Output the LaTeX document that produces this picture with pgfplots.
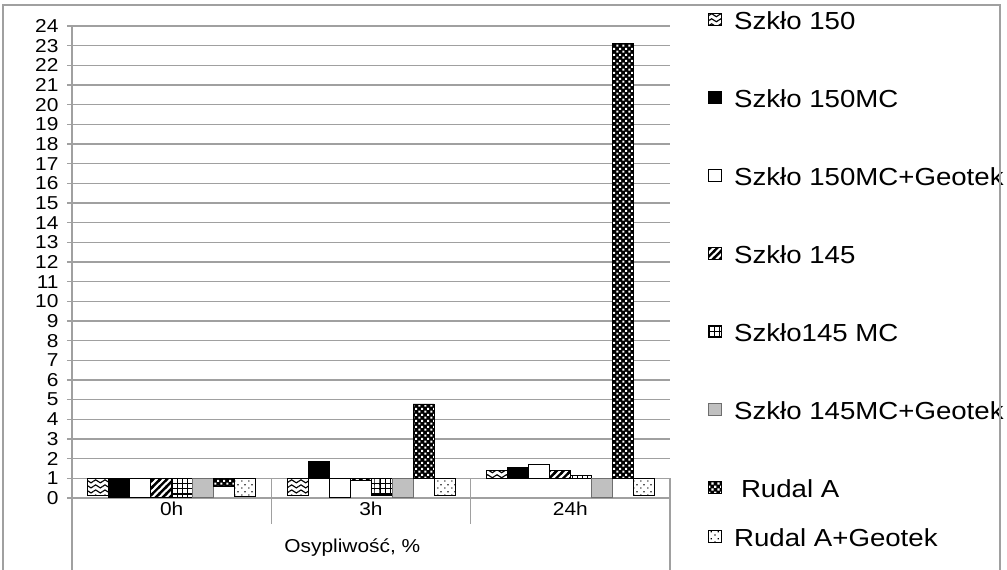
\documentclass[border=0pt]{standalone}
\usepackage{fontspec}
\setmainfont[FakeStretch=1.12]{Liberation Sans}
\usepackage{pgfplots}
\pgfplotsset{compat=1.18}
\usetikzlibrary{patterns}

% bar fills (form only, colour set per plot)
\pgfdeclarepatternformonly{waves}{\pgfpoint{-1pt}{-1pt}}{\pgfpoint{8pt}{4.8pt}}{\pgfpoint{7pt}{3.8pt}}{%
  \pgfsetlinewidth{0.85pt}%
  \pgfpathmoveto{\pgfpoint{0pt}{1.9pt}}%
  \pgfpathcurveto{\pgfpoint{1.17pt}{3.4pt}}{\pgfpoint{2.33pt}{3.4pt}}{\pgfpoint{3.5pt}{1.9pt}}%
  \pgfpathcurveto{\pgfpoint{4.67pt}{0.4pt}}{\pgfpoint{5.83pt}{0.4pt}}{\pgfpoint{7pt}{1.9pt}}%
  \pgfusepath{stroke}}
\pgfdeclarepatternformonly{thickstripes}{\pgfpoint{-1pt}{-1pt}}{\pgfpoint{6.2pt}{6.2pt}}{\pgfpoint{5.2pt}{5.2pt}}{%
  \pgfsetlinewidth{1.8pt}%
  \pgfpathmoveto{\pgfpoint{-1pt}{-1pt}}%
  \pgfpathlineto{\pgfpoint{6.2pt}{6.2pt}}%
  \pgfusepath{stroke}}
\pgfdeclarepatternformonly{sqgrid}{\pgfpoint{-0.5pt}{-0.5pt}}{\pgfpoint{4.3pt}{4.3pt}}{\pgfpoint{3.8pt}{3.8pt}}{%
  \pgfsetlinewidth{0.8pt}%
  \pgfpathmoveto{\pgfpoint{0pt}{-0.5pt}}\pgfpathlineto{\pgfpoint{0pt}{4.3pt}}%
  \pgfpathmoveto{\pgfpoint{-0.5pt}{0pt}}\pgfpathlineto{\pgfpoint{4.3pt}{0pt}}%
  \pgfusepath{stroke}}
\pgfdeclarepatternformonly{whitesq}{\pgfpointorigin}{\pgfpoint{4.6pt}{4.6pt}}{\pgfpoint{4.6pt}{4.6pt}}{%
  \pgfpathrectangle{\pgfpoint{0.3pt}{0.3pt}}{\pgfpoint{1.8pt}{1.8pt}}%
  \pgfpathrectangle{\pgfpoint{2.6pt}{2.6pt}}{\pgfpoint{1.8pt}{1.8pt}}%
  \pgfusepath{fill}}
\pgfdeclarepatternformonly{sparsedots}{\pgfpointorigin}{\pgfpoint{5pt}{5pt}}{\pgfpoint{5pt}{5pt}}{%
  \pgfpathrectangle{\pgfpoint{1pt}{1pt}}{\pgfpoint{0.9pt}{0.9pt}}%
  \pgfpathrectangle{\pgfpoint{3.5pt}{3.5pt}}{\pgfpoint{0.9pt}{0.9pt}}%
  \pgfusepath{fill}}

\definecolor{gridgray}{RGB}{160,160,160}
\definecolor{bargray}{RGB}{192,192,192}
\definecolor{bargrayedge}{RGB}{110,110,110}

\pgfplotsset{
  legsym/.style={legend image code/.code={\draw[##1] (0pt,-2pt) rectangle (9.5pt,7.5pt);}},
  legfont/.style={font=\fontsize{18.5}{20}\selectfont},
}

\begin{document}
\begin{tikzpicture}
\begin{axis}[
    at={(0pt,0pt)}, anchor=south west,
    scale only axis, width=448.5pt, height=354pt,
    ybar=0pt, bar width=15.75pt,
    xmin=-0.5, xmax=2.5, ymin=-1, ymax=23,
    y filter/.expression={y-1},   % horizontal axis crosses at 1
    xtick={0,1,2}, xticklabels={0h,3h,24h},
    ytick={-1,0,...,23},
    yticklabel={\pgfmathparse{int(round(\tick+1))}\pgfmathresult},
    axis x line*=bottom, axis y line*=left,
    axis line style={-, gridgray, line width=0.9pt},
    x axis line style={draw=none},
    x tick style={draw=none},
    y tick style={gridgray, line width=0.9pt},
    tick align=outside, major tick length=3.75pt,
    ymajorgrids, grid style={gridgray, line width=0.9pt},
    tick label style={font=\fontsize{14}{16}\selectfont},
    xticklabel style={yshift=4.5pt},
    yticklabel style={xshift=-2.85pt},
    xlabel={Osypliwość, \%},
    xlabel style={at={(axis description cs:0.5,0)}, anchor=center, xshift=-14pt, yshift=-37.5pt, font=\fontsize{14}{16}\selectfont},
    clip=false,
    legsym,
    legend cell align=left,
    legend style={at={(1,1)}, anchor=north west, xshift=28.5pt, yshift=10.9pt,
      draw=none, fill=none, inner sep=0pt, row sep=41.5pt, column sep=9.5pt, legfont,
      nodes={inner sep=0pt, text height=13pt, text depth=4pt}},
]
\addplot[fill=white, draw=black, postaction={pattern=waves}] coordinates {(0,0.15) (1,0.15) (2,1.42)};
\addlegendentry{Szkło 150}
\addplot[fill=black, draw=black] coordinates {(0,0.05) (1,1.85) (2,1.56)};
\addlegendentry{Szkło 150MC}
\addplot[fill=white, draw=black] coordinates {(0,0.05) (1,0.05) (2,1.73)};
\addlegendentry{Szkło 150MC+Geotek}
\addplot[fill=white, draw=black, postaction={pattern=thickstripes}] coordinates {(0,0.05) (1,0.9) (2,1.42)};
\addlegendentry{Szkło 145}
\addplot[fill=white, draw=black, postaction={pattern=sqgrid}] coordinates {(0,0.05) (1,0.15) (2,1.15)};
\addlegendentry{Szkło145 MC}
\addplot[fill=bargray, draw=bargrayedge] coordinates {(0,0.05) (1,0.05) (2,0.05)};
\addlegendentry{Szkło 145MC+Geotek}
\addplot[fill=black, draw=black, postaction={pattern=whitesq, pattern color=white}] coordinates {(0,0.6) (1,4.78) (2,23.1)};
\addlegendentry{\hspace{0.28em}Rudal A}
\addplot[fill=white, draw=black, postaction={pattern=sparsedots}] coordinates {(0,0.1) (1,0.15) (2,0.15)};

% category separators below the crossing line
\draw[gridgray, line width=0.9pt] (axis description cs:0,0) -- ++(0pt,-60pt);
\draw[gridgray, line width=0.9pt] (axis description cs:0.33333,0.041667) -- ++(0pt,-34.5pt);
\draw[gridgray, line width=0.9pt] (axis description cs:0.66667,0.041667) -- ++(0pt,-34.5pt);
\draw[gridgray, line width=0.9pt] (axis description cs:1,0.041667) -- ++(0pt,-72pt);
\end{axis}

% last legend row sits closer, as in the source
\begin{axis}[
    at={(0pt,0pt)}, anchor=south west,
    scale only axis, width=448.5pt, height=354pt,
    hide axis, xmin=0, xmax=1, ymin=0, ymax=1,
    legsym,
    legend cell align=left,
    legend style={at={(1,1)}, anchor=north west, xshift=28.5pt, yshift=-376.85pt,
      draw=none, fill=none, inner sep=0pt, column sep=9.5pt, legfont,
      nodes={inner sep=0pt, text height=13pt, text depth=4pt}},
]
\addlegendimage{fill=white, draw=black, postaction={pattern=sparsedots}}
\addlegendentry{Rudal A+Geotek}
\end{axis}

% chart frame
\draw[gridgray, line width=0.9pt] (-51.75pt,-60pt) -- (-51.75pt,369.75pt) -- (696pt,369.75pt) -- (696pt,-60pt);
\pgfresetboundingbox
\useasboundingbox (-54pt,-54pt) rectangle (701.25pt,373.5pt);
\end{tikzpicture}
\end{document}
